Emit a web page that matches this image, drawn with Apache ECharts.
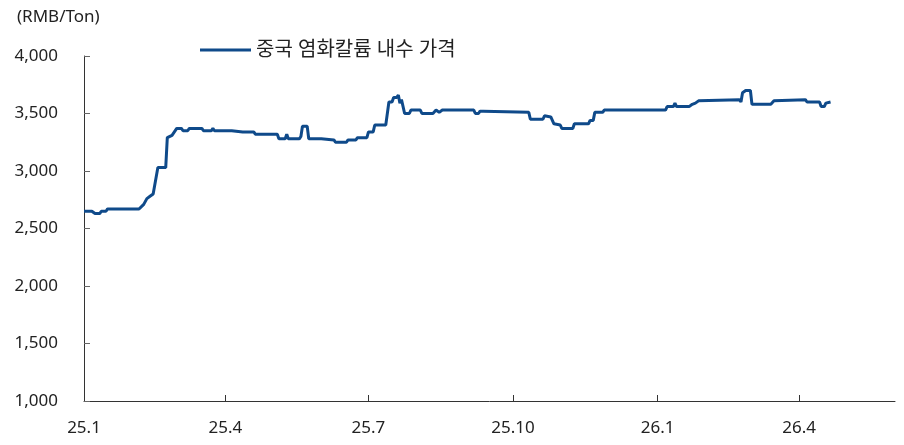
<!DOCTYPE html>
<html>
<head>
<meta charset="utf-8">
<script src="https://cdn.jsdelivr.net/npm/echarts@6/dist/echarts.min.js"></script>
<style>
  html, body { margin: 0; padding: 0; background: #fff; }
  #chart { width: 904px; height: 445px; }
</style>
</head>
<body>
<div id="chart"></div>
<script>
// 데이터
var seriesName = "중국 염화칼륨 내수 가격";
var dates = [
  "2025-01-01", "2025-01-06", "2025-01-08", "2025-01-11", "2025-01-12", "2025-01-15", "2025-01-16",
  "2025-02-05", "2025-02-08", "2025-02-10", "2025-02-12", "2025-02-14", "2025-02-15", "2025-02-17",
  "2025-02-22", "2025-02-23", "2025-02-26", "2025-02-27", "2025-03-01", "2025-03-04", "2025-03-05",
  "2025-03-08", "2025-03-09", "2025-03-17", "2025-03-18", "2025-03-23", "2025-03-24", "2025-03-25",
  "2025-04-05", "2025-04-06", "2025-04-12", "2025-04-13", "2025-04-14", "2025-04-19", "2025-04-20",
  "2025-05-04", "2025-05-05", "2025-05-09", "2025-05-10", "2025-05-11", "2025-05-18", "2025-05-19",
  "2025-05-20", "2025-05-23", "2025-05-24", "2025-06-01", "2025-06-02", "2025-06-09", "2025-06-10",
  "2025-06-17", "2025-06-18", "2025-06-23", "2025-06-24", "2025-06-30", "2025-07-01", "2025-07-04",
  "2025-07-05", "2025-07-12", "2025-07-14", "2025-07-16", "2025-07-17", "2025-07-19", "2025-07-20",
  "2025-07-21", "2025-07-22", "2025-07-23", "2025-07-24", "2025-07-27", "2025-07-28", "2025-08-03",
  "2025-08-04", "2025-08-11", "2025-08-13", "2025-08-14", "2025-08-15", "2025-08-16", "2025-08-17",
  "2025-09-06", "2025-09-07", "2025-09-09", "2025-09-10", "2025-09-12", "2025-09-13", "2025-10-11",
  "2025-10-12", "2025-10-20", "2025-10-21", "2025-10-22", "2025-10-25", "2025-10-27", "2025-10-31",
  "2025-11-01", "2025-11-08", "2025-11-09", "2025-11-18", "2025-11-19", "2025-11-21", "2025-11-22",
  "2025-11-27", "2025-11-28", "2026-01-06", "2026-01-07", "2026-01-11", "2026-01-12", "2026-01-13",
  "2026-01-21", "2026-01-23", "2026-01-25", "2026-01-27", "2026-01-28", "2026-02-22", "2026-02-23",
  "2026-02-24", "2026-02-26", "2026-03-01", "2026-03-02", "2026-03-14", "2026-03-16", "2026-03-17",
  "2026-04-05", "2026-04-06", "2026-04-14", "2026-04-15", "2026-04-17", "2026-04-18", "2026-04-21"
];
var prices = [
  2650, 2650, 2630, 2630, 2650, 2650, 2670,
  2670, 2710, 2760, 2780, 2800, 2810, 3030,
  3030, 3290, 3310, 3320, 3370, 3370, 3350,
  3350, 3370, 3370, 3350, 3350, 3370, 3350,
  3350, 3340, 3340, 3350, 3340, 3340, 3320,
  3320, 3280, 3280, 3320, 3280, 3280, 3300,
  3390, 3390, 3280, 3280, 3270, 3270, 3250,
  3250, 3270, 3270, 3290, 3290, 3340, 3340,
  3400, 3400, 3600, 3600, 3640, 3640, 3660,
  3590, 3620, 3620, 3500, 3500, 3530, 3530,
  3500, 3500, 3530, 3530, 3510, 3510, 3530,
  3530, 3500, 3500, 3520, 3520, 3510, 3510,
  3450, 3450, 3480, 3470, 3470, 3410, 3400,
  3370, 3370, 3410, 3410, 3440, 3440, 3510,
  3510, 3530, 3530, 3560, 3560, 3590, 3560,
  3560, 3580, 3590, 3610, 3620, 3620, 3600,
  3680, 3700, 3700, 3580, 3580, 3610, 3620,
  3620, 3600, 3600, 3560, 3560, 3590, 3600
];
var xStart = "2025-01-01", xEnd = "2026-06-01";
var xTickDates = ["2025-01-01", "2025-04-01", "2025-07-01", "2025-10-01", "2026-01-01", "2026-04-01"];
var xTickLabels = ["25.1", "25.4", "25.7", "25.10", "26.1", "26.4"];
var yMin = 1000, yMax = 4000, yStep = 500;

(function() {
  var chart = echarts.init(document.getElementById("chart"));
  var font = "'Noto Sans', 'Noto Sans CJK KR', sans-serif";

  function ts(d) { return Date.UTC(+d.slice(0, 4), +d.slice(5, 7) - 1, +d.slice(8, 10)); }
  var tickTimes = xTickDates.map(ts);
  var points = dates.map(function(d, i) { return [ts(d), prices[i]]; });

  var option = {
    animation: false,
    textStyle: { fontFamily: font },
    grid: { left: 84, right: 9, top: 56, bottom: 44, containLabel: false },
    title: {
      text: "(RMB/Ton)",
      left: 12,
      top: 4,
      textStyle: { fontSize: 17, fontWeight: "normal", color: "#222", fontFamily: font }
    },
    legend: {
      data: [seriesName],
      left: 195,
      top: 35,
      icon: "rect",
      itemWidth: 51,
      itemHeight: 3,
      itemGap: 6,
      textStyle: { fontSize: 20, color: "#222", fontFamily: font }
    },
    xAxis: {
      type: "value",
      min: ts(xStart),
      max: ts(xEnd),
      splitLine: { show: false },
      axisLine: { lineStyle: { color: "#333", width: 1 } },
      axisTick: { show: true, inside: true, length: 6, lineStyle: { color: "#333" }, customValues: tickTimes },
      axisLabel: {
        customValues: tickTimes,
        fontSize: 17,
        color: "#222",
        margin: 19,
        fontFamily: font,
        formatter: function(v) {
          for (var i = 0; i < tickTimes.length; i++) {
            if (Math.abs(tickTimes[i] - v) < 43200000) return xTickLabels[i];
          }
          return "";
        }
      }
    },
    yAxis: {
      type: "value",
      min: yMin,
      max: yMax,
      interval: yStep,
      splitLine: { show: false },
      axisLine: { show: true, lineStyle: { color: "#333", width: 1 } },
      axisTick: { show: true, inside: true, length: 6, lineStyle: { color: "#666" } },
      axisLabel: {
        fontSize: 17,
        color: "#222",
        margin: 26,
        fontFamily: font,
        formatter: function(v) { return v.toLocaleString("en-US"); }
      }
    },
    series: [
      {
        name: seriesName,
        type: "line",
        data: points,
        symbol: "none",
        showSymbol: false,
        lineStyle: { color: "#0f4a8a", width: 3 },
        itemStyle: { color: "#0f4a8a" }
      }
    ]
  };

  chart.setOption(option);
})();
</script>
</body>
</html>
